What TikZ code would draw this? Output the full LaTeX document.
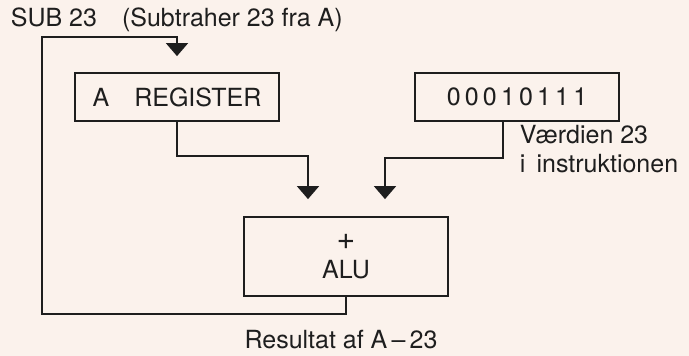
\documentclass[tikz,border=0pt]{standalone}
\usepackage{fontspec}
\setmainfont{TeX Gyre Heros}
\usetikzlibrary{arrows.meta,calc}
\definecolor{cream}{RGB}{251,242,236}
\definecolor{ink}{RGB}{30,30,30}
\begin{document}
\begin{tikzpicture}[x=1pt,y=-1pt,
  color=ink, line width=1.8pt,
  font=\fontsize{25}{29}\selectfont,
  box/.style={draw, rectangle, minimum height=48pt, inner sep=0pt},
  txt/.style={inner sep=0pt},
  flow/.style={-{Triangle[width=22pt,length=13pt]}, shorten >=17pt}]
  \fill[cream] (0,0) rectangle (689,356);
  \useasboundingbox (0,0) rectangle (689,356);
  \node[txt, anchor=base west] (title) at (10,27) {SUB 23\quad(Subtraher 23 fra A)};
  \node[box, minimum width=204pt] (areg) at (177,97) {A\quad REGISTER};
  \node[box, minimum width=204pt] (instr) at (517,97) {0\,0\,0\,1\,0\,1\,1\,1};
  \node[box, minimum width=204pt, minimum height=79pt, align=center] (alu) at (346,256.5) {{\fontsize{32}{29}\selectfont+}\\ALU};
  \node[txt, anchor=base] (result) at (341,348) {Resultat af A\,--\,23};
  \node[txt, anchor=north west, align=left] (vaerdi) at (519,124) {Værdien 23\\i\, instruktionen};
  % feedback from the ALU back into A
  \coordinate (bottom) at (42,314);
  \coordinate (top) at (42,37);
  \draw[flow, shorten >=16pt] (alu.south) |- (bottom) -- (top) -| (areg.north);
  % the two inputs of the ALU
  \draw[flow] (areg.south) -- ++(0,34) -| ($(alu.north)+(-38,0)$);
  \draw[flow] ($(instr.south)+(-14,0)$) -- ++(0,36) -| ($(alu.north)+(39,0)$);
\end{tikzpicture}
\end{document}
